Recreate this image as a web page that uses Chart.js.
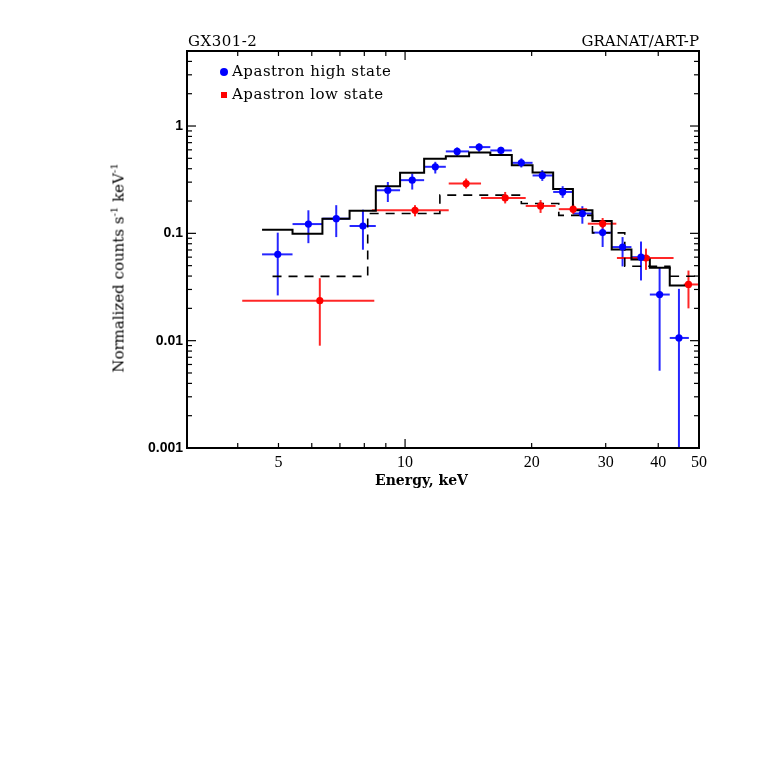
<!DOCTYPE html>
<html lang="en">
<head>
<meta charset="UTF-8">
<title>GX301-2 GRANAT/ART-P</title>
<script src="https://cdn.jsdelivr.net/npm/chart.js"></script>
<style>
    body { margin: 0; background: #fff; }
    #wrap { position: relative; width: 763px; height: 763px; }
    .lbl { position: absolute; font-family: 'DejaVu Serif', serif; font-size: 15px; color: #000; white-space: nowrap; line-height: 1; }
    .mark { position: absolute; }
</style>
</head>
<body>
<div id="wrap">
    <canvas id="spec" width="763" height="763"></canvas>
    <div class="lbl" style="left:188px; top:34px; letter-spacing:0.5px;">GX301-2</div>
    <div class="lbl" style="right:64px; top:34px;">GRANAT/ART-P</div>
    <div class="mark" style="left:220px; top:68px; width:8px; height:8px; border-radius:50%; background:#0000ff;"></div>
    <div class="lbl" style="left:232px; top:64px; letter-spacing:0.5px;">Apastron high state</div>
    <div class="mark" style="left:221px; top:92px; width:6px; height:6px; background:#ff0000;"></div>
    <div class="lbl" style="left:232px; top:87px; letter-spacing:0.5px;">Apastron low state</div>
    <div class="lbl" style="left:375px; top:473px; font-weight:bold; font-size:14px;">Energy, keV</div>
    <div class="lbl" style="left:118px; top:268px; transform:translate(-50%,-50%) rotate(-90deg);">Normalized counts s<sup style="font-size:10px">-1</sup> keV<sup style="font-size:10px">-1</sup></div>
</div>
<script>
    // axis labels
    const xTicks = [5, 10, 20, 30, 40, 50];
    const yTicks = [0.001, 0.01, 0.1, 1];

    // apastron high state: bin edges (keV), flux and error bounds
    const hiEdges = [4.57, 5.40, 6.36, 7.38, 8.52, 9.73, 11.1, 12.5, 14.2, 15.95, 17.94, 20.1, 22.5, 25.07, 27.9, 31.0, 34.54, 38.2, 42.6, 47.3];
    const hiE    = [4.98, 5.89, 6.86, 7.94, 9.10, 10.4, 11.8, 13.3, 15.0, 16.9, 18.9, 21.2, 23.7, 26.4, 29.5, 32.9, 36.4, 40.3, 44.8];
    const hiFlux = [0.0637, 0.122, 0.137, 0.117, 0.252, 0.313, 0.417, 0.580, 0.636, 0.592, 0.454, 0.346, 0.243, 0.153, 0.1016, 0.0745, 0.0600, 0.0269, 0.0106];
    const hiYHi  = [0.1015, 0.164, 0.183, 0.166, 0.301, 0.361, 0.464, 0.632, 0.689, 0.640, 0.499, 0.388, 0.275, 0.179, 0.119, 0.0923, 0.0839, 0.0483, 0.0304];
    const hiYLo  = [0.0264, 0.081, 0.0923, 0.0704, 0.196, 0.256, 0.361, 0.524, 0.575, 0.536, 0.411, 0.308, 0.214, 0.123, 0.0746, 0.0492, 0.0364, 0.00525, 0.0004];
    const hiModel = [0.108, 0.0993, 0.137, 0.162, 0.275, 0.366, 0.495, 0.524, 0.568, 0.536, 0.432, 0.369, 0.259, 0.164, 0.130, 0.0709, 0.0571, 0.0478, 0.0327];

    // apastron low state
    const loE    = [6.27, 10.56, 13.97, 17.3, 21.0, 25.1, 29.5, 37.4, 47.2];
    const loXLo  = [4.10, 8.34, 12.7, 15.16, 19.36, 23.2, 27.2, 31.9, 46.0];
    const loXHi  = [8.45, 12.7, 15.16, 19.36, 22.8, 27.1, 31.8, 43.5, 52.0];
    const loFlux = [0.0236, 0.164, 0.291, 0.214, 0.180, 0.168, 0.123, 0.0588, 0.0334];
    const loYHi  = [0.0382, 0.183, 0.324, 0.243, 0.204, 0.188, 0.139, 0.072, 0.045];
    const loYLo  = [0.00898, 0.144, 0.262, 0.190, 0.155, 0.152, 0.111, 0.0457, 0.020];
    const loEdges = [4.84, 8.15, 12.1, 18.9, 23.2, 27.9, 33.3, 42.6, 48.9];
    const loModel = [0.0397, 0.153, 0.227, 0.190, 0.147, 0.101, 0.0494, 0.0398];

    function steps(edges, vals) {
        const pts = vals.map((v, i) => ({x: edges[i], y: v}));
        pts.push({x: edges[edges.length - 1], y: vals[vals.length - 1]});
        return pts;
    }

    const errorBars = {
        id: 'errorBars',
        beforeDatasetsDraw(chart) {
            const {ctx, chartArea: a, scales: {x, y}} = chart;
            ctx.save();
            ctx.beginPath();
            ctx.rect(a.left, a.top, a.right - a.left, a.bottom - a.top);
            ctx.clip();
            ctx.lineWidth = 2;
            const seg = (x1, y1, x2, y2) => { ctx.beginPath(); ctx.moveTo(x1, y1); ctx.lineTo(x2, y2); ctx.stroke(); };
            ctx.strokeStyle = 'rgba(0,0,255,0.85)';
            hiE.forEach((e, i) => {
                const px = x.getPixelForValue(e), py = y.getPixelForValue(hiFlux[i]);
                seg(x.getPixelForValue(hiEdges[i]), py, x.getPixelForValue(hiEdges[i + 1]), py);
                seg(px, y.getPixelForValue(hiYLo[i]), px, y.getPixelForValue(hiYHi[i]));
            });
            ctx.strokeStyle = 'rgba(255,0,0,0.85)';
            loE.forEach((e, i) => {
                const px = x.getPixelForValue(e), py = y.getPixelForValue(loFlux[i]);
                seg(x.getPixelForValue(loXLo[i]), py, x.getPixelForValue(loXHi[i]), py);
                seg(px, y.getPixelForValue(loYLo[i]), px, y.getPixelForValue(loYHi[i]));
            });
            ctx.restore();
        }
    };

    // frame with inward tick marks on all four sides
    const frame = {
        id: 'frame',
        afterDraw(chart) {
            const {ctx, chartArea: a, scales: {x, y}} = chart;
            ctx.save();
            ctx.strokeStyle = '#000';
            ctx.lineWidth = 2;
            ctx.strokeRect(a.left, a.top, a.right - a.left, a.bottom - a.top);
            ctx.lineWidth = 1.2;
            const seg = (x1, y1, x2, y2) => { ctx.beginPath(); ctx.moveTo(x1, y1); ctx.lineTo(x2, y2); ctx.stroke(); };
            [4, 5, 6, 7, 8, 9, 10, 20, 30, 40].forEach(v => {
                const px = x.getPixelForValue(v), len = v === 10 ? 9 : 5;
                seg(px, a.bottom, px, a.bottom - len);
                seg(px, a.top, px, a.top + len);
            });
            for (let d = 0.001; d < 5; d *= 10) {
                for (let m = 1; m <= 9; m++) {
                    const v = d * m;
                    if (v >= 4.99) break;
                    const py = y.getPixelForValue(v), len = m === 1 ? 9 : 5;
                    seg(a.left, py, a.left + len, py);
                    seg(a.right, py, a.right - len, py);
                }
            }
            ctx.restore();
        }
    };

    const ctx = document.getElementById('spec').getContext('2d');
    new Chart(ctx, {
        data: {
            datasets: [
                {type: 'scatter', data: hiE.map((e, i) => ({x: e, y: hiFlux[i]})), pointRadius: 3.6, pointBackgroundColor: '#0000ff', pointBorderWidth: 0},
                {type: 'scatter', data: loE.map((e, i) => ({x: e, y: loFlux[i]})), pointRadius: 3.6, pointBackgroundColor: '#ff0000', pointBorderWidth: 0},
                {type: 'line', data: steps(hiEdges, hiModel), stepped: true, borderColor: '#000', borderWidth: 2, pointRadius: 0, fill: false},
                {type: 'line', data: steps(loEdges, loModel), stepped: true, borderColor: '#000', borderWidth: 1.6, borderDash: [9, 7], pointRadius: 0, fill: false}
            ]
        },
        options: {
            responsive: false,
            animation: false,
            layout: {padding: {left: 0, top: 51, right: 64, bottom: 0}},
            plugins: {legend: {display: false}, tooltip: {enabled: false}},
            scales: {
                x: {
                    type: 'logarithmic', min: 3.03, max: 50, position: 'bottom',
                    afterFit(s) { s.height = 315; },
                    afterBuildTicks(s) { s.ticks = xTicks.map(v => ({value: v})); },
                    ticks: {autoSkip: false, maxRotation: 0, padding: 5, color: '#000',
                        font: {family: 'Liberation Serif', size: 16}, callback: v => String(v)},
                    grid: {display: false, drawTicks: false},
                    border: {display: false}
                },
                y: {
                    type: 'logarithmic', min: 0.001, max: 5, position: 'left',
                    afterFit(s) { s.width = 187; },
                    afterBuildTicks(s) { s.ticks = yTicks.map(v => ({value: v})); },
                    ticks: {autoSkip: false, padding: 4, color: '#000',
                        font: {family: 'Liberation Sans', size: 14, weight: 'bold'}, callback: v => String(v)},
                    grid: {display: false, drawTicks: false},
                    border: {display: false}
                }
            }
        },
        plugins: [errorBars, frame]
    });
</script>
</body>
</html>
